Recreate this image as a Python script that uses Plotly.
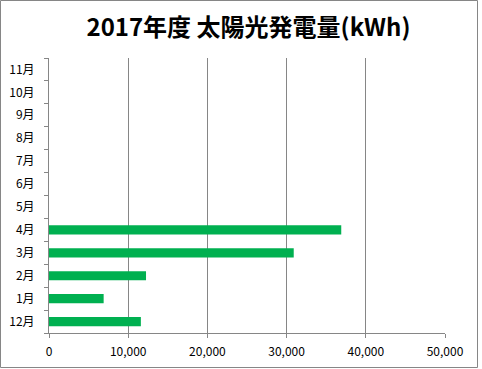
import plotly.graph_objects as go

months = ["12月", "1月", "2月", "3月", "4月", "5月", "6月", "7月", "8月", "9月", "10月", "11月"]
kwh = [11600, 6900, 12250, 30900, 36900, None, None, None, None, None, None, None]
x_ticks = [0, 10000, 20000, 30000, 40000, 50000]
x_labels = ["0", "10,000", "20,000", "30,000", "40,000", "50,000"]

W, H = 482, 369
L, R, T, B = 49, 37, 58, 36
pw, ph = W - L - R, H - T - B

def px_x(p):
    return (p - L) / pw

def px_y(p):
    return (H - B - p) / ph

fig = go.Figure(go.Bar(
    x=kwh, y=months, orientation="h",
    marker=dict(color="#00B050", line=dict(width=0)),
))

axis_col = "#868686"
fig.update_layout(
    width=W, height=H,
    margin=dict(l=L, r=R, t=T, b=B, pad=0, autoexpand=False),
    paper_bgcolor="white", plot_bgcolor="white",
    bargap=0.6,
    showlegend=False,
    font=dict(family="Noto Sans CJK JP", color="#000000", size=12),
    title=dict(
        text="<b>2017年度 太陽光発電量(kWh)</b>",
        x=248.5 / W, xref="container", xanchor="center",
        y=1 - 28 / H, yref="container", yanchor="middle",
        font=dict(size=24, color="#000000", family="Noto Sans CJK JP"),
        automargin=False,
    ),
    xaxis=dict(
        range=[0, 50000], tickvals=x_ticks, ticktext=x_labels,
        showgrid=True, gridcolor=axis_col, gridwidth=1,
        showline=True, linecolor=axis_col, linewidth=1,
        ticks="outside", ticklen=4, tickcolor=axis_col,
        zeroline=False, fixedrange=True, automargin=False,
        tickfont=dict(size=12, family="Noto Sans CJK JP", color="#000000"),
        ticklabelstandoff=4,
    ),
    yaxis=dict(
        type="category", categoryorder="array", categoryarray=months,
        range=[-0.5, 11.5],
        showgrid=False,
        showline=True, linecolor=axis_col, linewidth=1,
        ticks="outside", ticklen=4, tickcolor=axis_col,
        tickson="boundaries",
        zeroline=False, fixedrange=True, automargin=False,
        tickfont=dict(size=12, family="Noto Sans CJK JP", color="#000000"),
        ticklabelstandoff=11,
    ),
    shapes=[dict(
        type="rect", xref="paper", yref="paper",
        x0=px_x(0.5), x1=px_x(477.5), y0=px_y(367.5), y1=px_y(0.5),
        line=dict(color=axis_col, width=1), fillcolor="rgba(0,0,0,0)", layer="below",
    )],
)

fig.write_html(
    "out.html",
    config={"displayModeBar": False, "staticPlot": True},
    post_script="document.body.style.margin='0';document.body.style.padding='0';",
)
